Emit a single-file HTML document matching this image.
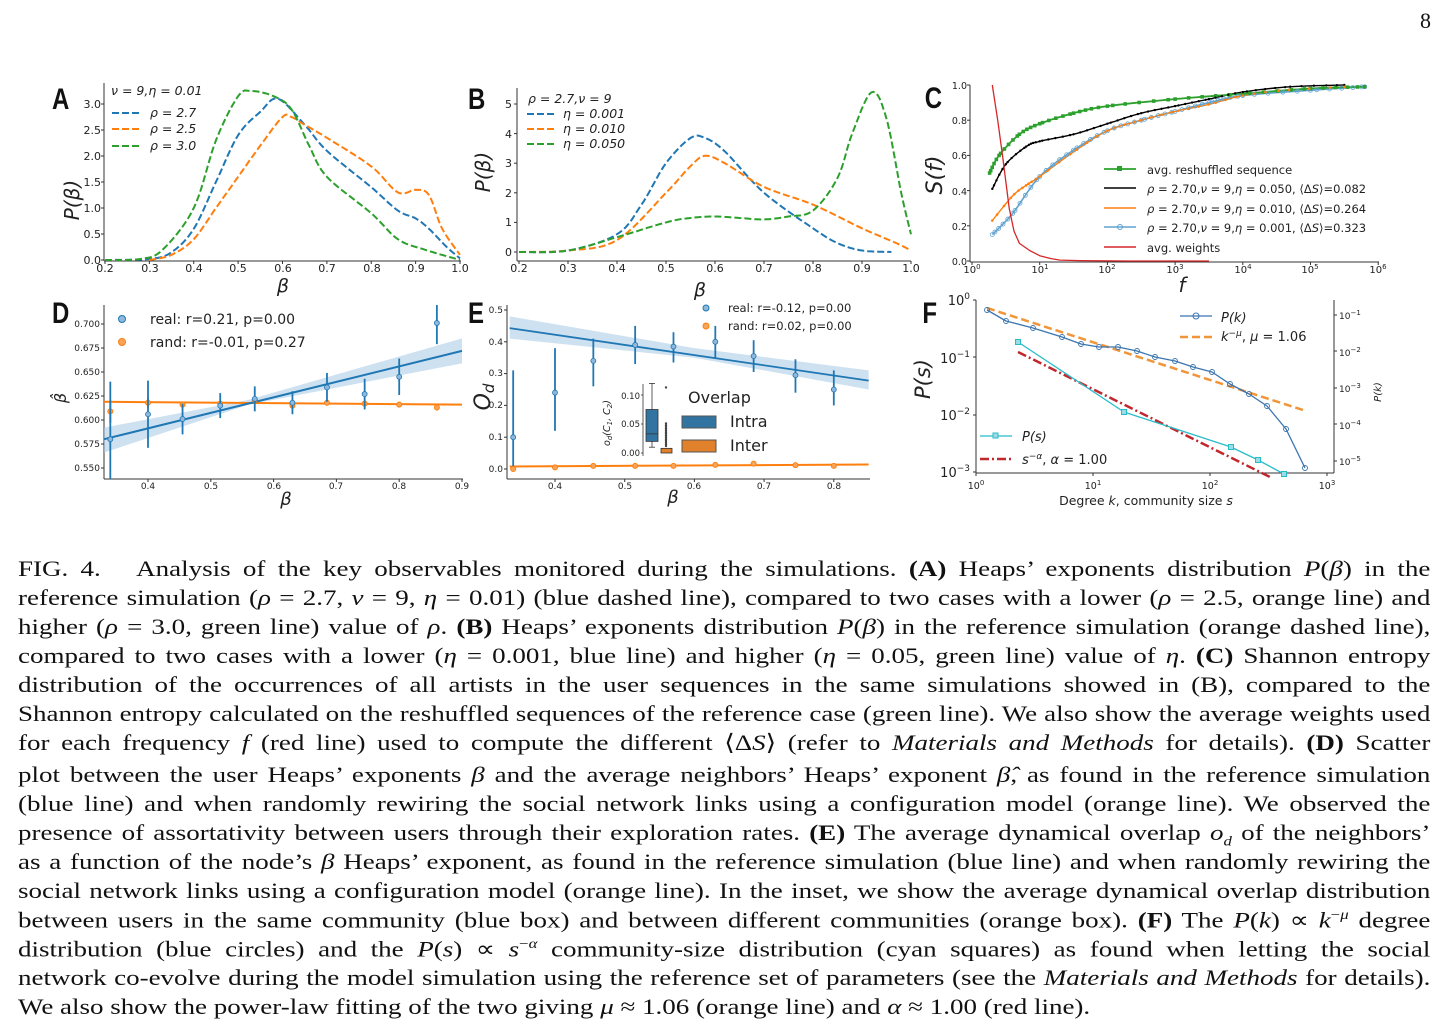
<!DOCTYPE html>
<html><head><meta charset="utf-8"><style>
body{margin:0;background:#fff;width:1448px;height:1030px;overflow:hidden;position:relative}
svg{position:absolute;left:0;top:0}
.t{font-family:"DejaVu Sans","Liberation Sans",sans-serif;fill:#222}
.lab{font-family:"Liberation Sans Narrow","Liberation Sans",sans-serif;font-size:30px;fill:#111;font-weight:bold}
.cap{position:absolute;left:18px;width:1177px;font-family:"Liberation Serif",serif;font-size:22.5px;color:#111;white-space:nowrap;text-align:justify;text-align-last:justify;line-height:1;transform:scaleX(1.2);transform-origin:0 0;word-spacing:-1.5px}
.cap.l{text-align-last:left;word-spacing:0}
b{font-weight:bold}
</style></head><body>
<svg id="s" width="1448" height="1030" xmlns="http://www.w3.org/2000/svg">
<text x="1420" y="28" style="font-family:'Liberation Serif',serif;font-size:22px" fill="#111">8</text>
<g transform="scale(0.8,1)">
<text class="lab" x="65" y="109">A</text>
<text class="lab" x="585" y="109">B</text>
<text class="lab" x="1156" y="108">C</text>
<text class="lab" x="65" y="323">D</text>
<text class="lab" x="585" y="323">E</text>
<text class="lab" x="1153" y="323">F</text>
</g>
<g id="g"></g>
<g class="t" font-size="11" text-anchor="end">
<text x="101" y="264">0.0</text><text x="101" y="238">0.5</text><text x="101" y="212">1.0</text><text x="101" y="186">1.5</text><text x="101" y="160">2.0</text><text x="101" y="134">2.5</text><text x="101" y="108">3.0</text>
</g>
<g class="t" font-size="11" text-anchor="middle">
<text x="105" y="272">0.2</text><text x="150" y="272">0.3</text><text x="194" y="272">0.4</text><text x="238" y="272">0.5</text><text x="283" y="272">0.6</text><text x="327" y="272">0.7</text><text x="372" y="272">0.8</text><text x="416" y="272">0.9</text><text x="460" y="272">1.0</text>
<text x="283" y="292" font-size="19" font-style="italic">β</text>
</g>
<text class="t" font-size="20" font-style="italic" transform="translate(79,200) rotate(-90)" text-anchor="middle">P(β)</text>
<g class="t" font-size="12.5" font-style="italic"><text x="111" y="95">ν = 9,η = 0.01</text><text x="150" y="117">ρ = 2.7</text><text x="150" y="133">ρ = 2.5</text><text x="150" y="150">ρ = 3.0</text></g>
<g class="t" font-size="11" text-anchor="end">
<text x="512" y="256">0</text><text x="512" y="226">1</text><text x="512" y="197">2</text><text x="512" y="167">3</text><text x="512" y="138">4</text><text x="512" y="108">5</text>
</g>
<g class="t" font-size="11" text-anchor="middle">
<text x="519" y="272">0.2</text><text x="568" y="272">0.3</text><text x="617" y="272">0.4</text><text x="666" y="272">0.5</text><text x="715" y="272">0.6</text><text x="764" y="272">0.7</text><text x="813" y="272">0.8</text><text x="862" y="272">0.9</text><text x="911" y="272">1.0</text>
<text x="700" y="296" font-size="19" font-style="italic">β</text>
</g>
<text class="t" font-size="20" font-style="italic" transform="translate(490,172) rotate(-90)" text-anchor="middle">P(β)</text>
<g class="t" font-size="12.5" font-style="italic"><text x="528" y="103">ρ = 2.7,ν = 9</text><text x="563" y="118">η = 0.001</text><text x="563" y="133">η = 0.010</text><text x="563" y="148">η = 0.050</text></g>
<g class="t" font-size="9.5" text-anchor="end">
<text x="967" y="265">0.0</text><text x="967" y="230">0.2</text><text x="967" y="195">0.4</text><text x="967" y="159">0.6</text><text x="967" y="124">0.8</text><text x="967" y="89">1.0</text>
</g>
<g class="t" font-size="10" text-anchor="middle">
<text x="972" y="273">10<tspan font-size="7" dy="-4">0</tspan></text><text x="1040" y="273">10<tspan font-size="7" dy="-4">1</tspan></text><text x="1107" y="273">10<tspan font-size="7" dy="-4">2</tspan></text><text x="1175" y="273">10<tspan font-size="7" dy="-4">3</tspan></text><text x="1243" y="273">10<tspan font-size="7" dy="-4">4</tspan></text><text x="1310" y="273">10<tspan font-size="7" dy="-4">5</tspan></text><text x="1378" y="273">10<tspan font-size="7" dy="-4">6</tspan></text>
<text x="1182" y="292" font-size="20" font-style="italic">f</text>
</g>
<text class="t" font-size="22" font-style="italic" transform="translate(942,175) rotate(-90)" text-anchor="middle">S(f)</text>
<g class="t" font-size="11.5"><text x="1147" y="174">avg. reshuffled sequence</text><text x="1147" y="193"><tspan font-style="italic">ρ</tspan> = 2.70,<tspan font-style="italic">ν</tspan> = 9,<tspan font-style="italic">η</tspan> = 0.050, ⟨Δ<tspan font-style="italic">S</tspan>⟩=0.082</text><text x="1147" y="213"><tspan font-style="italic">ρ</tspan> = 2.70,<tspan font-style="italic">ν</tspan> = 9,<tspan font-style="italic">η</tspan> = 0.010, ⟨Δ<tspan font-style="italic">S</tspan>⟩=0.264</text><text x="1147" y="232"><tspan font-style="italic">ρ</tspan> = 2.70,<tspan font-style="italic">ν</tspan> = 9,<tspan font-style="italic">η</tspan> = 0.001, ⟨Δ<tspan font-style="italic">S</tspan>⟩=0.323</text><text x="1147" y="252">avg. weights</text></g>
<g class="t" font-size="9" text-anchor="end">
<text x="100" y="327">0.700</text><text x="100" y="351">0.675</text><text x="100" y="375">0.650</text><text x="100" y="399">0.625</text><text x="100" y="423">0.600</text><text x="100" y="447">0.575</text><text x="100" y="471">0.550</text>
</g>
<g class="t" font-size="9" text-anchor="middle">
<text x="148" y="489">0.4</text><text x="211" y="489">0.5</text><text x="274" y="489">0.6</text><text x="336" y="489">0.7</text><text x="399" y="489">0.8</text><text x="462" y="489">0.9</text>
<text x="286" y="505" font-size="18" font-style="italic">β</text>
</g>
<text class="t" font-size="16" font-style="italic" transform="translate(66,398) rotate(-90)" text-anchor="middle">β̂</text>
<g class="t" font-size="14"><text x="150" y="324">real: r=0.21, p=0.00</text><text x="150" y="347">rand: r=-0.01, p=0.27</text></g>
<g class="t" font-size="9" text-anchor="end">
<text x="503" y="472">0.0</text><text x="503" y="440">0.1</text><text x="503" y="408">0.2</text><text x="503" y="376">0.3</text><text x="503" y="345">0.4</text><text x="503" y="313">0.5</text>
</g>
<g class="t" font-size="9" text-anchor="middle">
<text x="555" y="489">0.4</text><text x="625" y="489">0.5</text><text x="694" y="489">0.6</text><text x="764" y="489">0.7</text><text x="834" y="489">0.8</text>
<text x="673" y="503" font-size="18" font-style="italic">β</text>
</g>
<text class="t" font-size="22" font-style="italic" transform="translate(490,397) rotate(-90)" text-anchor="middle">O<tspan font-size="15" dy="4">d</tspan></text>
<g class="t" font-size="11.5"><text x="728" y="312">real: r=-0.12, p=0.00</text><text x="728" y="330">rand: r=0.02, p=0.00</text></g>
<g class="t" font-size="8.5" text-anchor="end"><text x="640" y="399">0.10</text><text x="640" y="427">0.05</text><text x="640" y="456">0.00</text></g>
<text class="t" font-size="9.5" font-style="italic" transform="translate(610,423) rotate(-90)" text-anchor="middle">o<tspan font-size="7" dy="2">d</tspan><tspan dy="-2">(C</tspan><tspan font-size="7" dy="2">1</tspan><tspan dy="-2">, C</tspan><tspan font-size="7" dy="2">2</tspan><tspan dy="-2">)</tspan></text>
<g class="t" font-size="16"><text x="688" y="403">Overlap</text><text x="730" y="427">Intra</text><text x="730" y="451">Inter</text></g>
<g class="t" font-size="13" text-anchor="end">
<text x="970" y="305">10<tspan font-size="9" dy="-6">0</tspan></text><text x="970" y="363">10<tspan font-size="9" dy="-6">−1</tspan></text><text x="970" y="420">10<tspan font-size="9" dy="-6">−2</tspan></text><text x="970" y="477">10<tspan font-size="9" dy="-6">−3</tspan></text>
</g>
<g class="t" font-size="9"><text x="1339" y="319">10<tspan font-size="7" dy="-4">−1</tspan></text><text x="1339" y="356">10<tspan font-size="7" dy="-4">−2</tspan></text><text x="1339" y="392">10<tspan font-size="7" dy="-4">−3</tspan></text><text x="1339" y="429">10<tspan font-size="7" dy="-4">−4</tspan></text><text x="1339" y="465">10<tspan font-size="7" dy="-4">−5</tspan></text></g>
<text class="t" font-size="10" font-style="italic" transform="translate(1381,392) rotate(-90)" text-anchor="middle">P(k)</text>
<g class="t" font-size="9.5" text-anchor="middle">
<text x="976" y="489">10<tspan font-size="7" dy="-4">0</tspan></text><text x="1093" y="489">10<tspan font-size="7" dy="-4">1</tspan></text><text x="1210" y="489">10<tspan font-size="7" dy="-4">2</tspan></text><text x="1327" y="489">10<tspan font-size="7" dy="-4">3</tspan></text>
</g>
<text class="t" font-size="12.5" x="1146" y="505" text-anchor="middle">Degree <tspan font-style="italic">k</tspan>, community size <tspan font-style="italic">s</tspan></text>
<text class="t" font-size="21" font-style="italic" transform="translate(930,379) rotate(-90)" text-anchor="middle">P(s)</text>
<g class="t" font-size="13"><text x="1221" y="322" font-style="italic">P(k)</text><text x="1221" y="341"><tspan font-style="italic">k<tspan font-size="9" dy="-5">−μ</tspan></tspan><tspan dy="5">, </tspan><tspan font-style="italic">μ</tspan> = 1.06</text>
<text x="1022" y="441" font-style="italic">P(s)</text><text x="1022" y="464"><tspan font-style="italic">s<tspan font-size="9" dy="-5">−α</tspan></tspan><tspan dy="5">, </tspan><tspan font-style="italic">α</tspan> = 1.00</text></g>
</svg>
<div class="cap" style="top:558px">FIG. 4. &nbsp; Analysis of the key observables monitored during the simulations. <b>(A)</b> Heaps’ exponents distribution <i>P</i>(<i>β</i>) in the</div>
<div class="cap" style="top:587px">reference simulation (<i>ρ</i> = 2.7, <i>ν</i> = 9, <i>η</i> = 0.01) (blue dashed line), compared to two cases with a lower (<i>ρ</i> = 2.5, orange line) and</div>
<div class="cap" style="top:616px">higher (<i>ρ</i> = 3.0, green line) value of <i>ρ</i>. <b>(B)</b> Heaps’ exponents distribution <i>P</i>(<i>β</i>) in the reference simulation (orange dashed line),</div>
<div class="cap" style="top:645px">compared to two cases with a lower (<i>η</i> = 0.001, blue line) and higher (<i>η</i> = 0.05, green line) value of <i>η</i>. <b>(C)</b> Shannon entropy</div>
<div class="cap" style="top:674px">distribution of the occurrences of all artists in the user sequences in the same simulations showed in (B), compared to the</div>
<div class="cap" style="top:703px">Shannon entropy calculated on the reshuffled sequences of the reference case (green line). We also show the average weights used</div>
<div class="cap" style="top:732px">for each frequency <i>f</i> (red line) used to compute the different ⟨Δ<i>S</i>⟩ (refer to <i>Materials and Methods</i> for details). <b>(D)</b> Scatter</div>
<div class="cap" style="top:764px">plot between the user Heaps’ exponents <i>β</i> and the average neighbors’ Heaps’ exponent <i>β̂</i>, as found in the reference simulation</div>
<div class="cap" style="top:793px">(blue line) and when randomly rewiring the social network links using a configuration model (orange line). We observed the</div>
<div class="cap" style="top:822px">presence of assortativity between users through their exploration rates. <b>(E)</b> The average dynamical overlap <i>o<sub style="font-size:14px">d</sub></i> of the neighbors’</div>
<div class="cap" style="top:851px">as a function of the node’s <i>β</i> Heaps’ exponent, as found in the reference simulation (blue line) and when randomly rewiring the</div>
<div class="cap" style="top:880px">social network links using a configuration model (orange line). In the inset, we show the average dynamical overlap distribution</div>
<div class="cap" style="top:909px">between users in the same community (blue box) and between different communities (orange box). <b>(F)</b> The <i>P</i>(<i>k</i>) ∝ <i>k</i><sup style="font-size:14px">−<i>μ</i></sup> degree</div>
<div class="cap" style="top:938px">distribution (blue circles) and the <i>P</i>(<i>s</i>) ∝ <i>s</i><sup style="font-size:14px">−<i>α</i></sup> community-size distribution (cyan squares) as found when letting the social</div>
<div class="cap" style="top:967px">network co-evolve during the model simulation using the reference set of parameters (see the <i>Materials and Methods</i> for details).</div>
<div class="cap l" style="top:996px">We also show the power-law fitting of the two giving <i>μ</i> ≈ 1.06 (orange line) and <i>α</i> ≈ 1.00 (red line).</div>
<script>
var g=document.getElementById('g'),NS='http://www.w3.org/2000/svg';
function el(t,a){var e=document.createElementNS(NS,t);for(var k in a)e.setAttribute(k,a[k]);g.appendChild(e);return e}
function line(x1,y1,x2,y2,c,w,d){el('line',{x1:x1,y1:y1,x2:x2,y2:y2,stroke:c||'#000',"stroke-width":w||1,"stroke-dasharray":d||''})}
function path(pts,fx,fy,c,w,d){var s='';pts.forEach(function(p,i){s+=(i?'L':'M')+fx(p[0]).toFixed(1)+','+fy(p[1]).toFixed(1)});el('path',{d:s,fill:'none',stroke:c,"stroke-width":w,"stroke-dasharray":d||'',"stroke-linejoin":"round"});}
function smooth(pts){var o=[];for(var i=0;i<pts.length-1;i++){var p0=pts[Math.max(i-1,0)],p1=pts[i],p2=pts[i+1],p3=pts[Math.min(i+2,pts.length-1)];for(var t=0;t<1;t+=0.1){var t2=t*t,t3=t2*t;o.push([0.5*((2*p1[0])+(-p0[0]+p2[0])*t+(2*p0[0]-5*p1[0]+4*p2[0]-p3[0])*t2+(-p0[0]+3*p1[0]-3*p2[0]+p3[0])*t3),0.5*((2*p1[1])+(-p0[1]+p2[1])*t+(2*p0[1]-5*p1[1]+4*p2[1]-p3[1])*t2+(-p0[1]+3*p1[1]-3*p2[1]+p3[1])*t3)])}}o.push(pts[pts.length-1]);return o}
var B='#1f77b4',O='#ff7f0e',G='#2ca02c',R='#d62728';
var ax=function(b){return 105+(b-0.2)*443.75},ay=function(v){return 260-v*52};
line(104,83,104,261,'#333');line(104,261,461,261,'#333');
[0,.5,1,1.5,2,2.5,3].forEach(function(v){line(101,ay(v),104,ay(v),'#333')});
[.2,.3,.4,.5,.6,.7,.8,.9,1].forEach(function(v){line(ax(v),261,ax(v),264,'#333')});
path(smooth([[.2,0],[.3,.02],[.35,.15],[.4,.6],[.45,1.5],[.5,2.4],[.55,2.85],[.59,3.1],[.65,2.6],[.7,2.1],[.8,1.4],[.86,.95],[.9,.8],[.93,.6],[.97,.25],[1,.03]]),ax,ay,B,2,'7,3');
path(smooth([[.3,0],[.35,.1],[.4,.4],[.45,1],[.5,1.6],[.55,2.2],[.6,2.75],[.62,2.75],[.65,2.6],[.7,2.35],[.8,1.8],[.86,1.3],[.9,1.35],[.93,1.25],[.96,.6],[1,.1]]),ax,ay,O,2,'7,3');
path(smooth([[.2,0],[.28,.02],[.33,.2],[.4,1],[.45,2.3],[.5,3.15],[.53,3.25],[.58,3.15],[.62,2.9],[.66,2.2],[.7,1.6],[.8,.9],[.86,.4],[.92,.2],[1,0]]),ax,ay,G,2,'7,3');
line(112,113,140,113,B,2,'7,3');line(112,129,140,129,O,2,'7,3');line(112,146,140,146,G,2,'7,3');
var bx=function(b){return 519+(b-0.2)*490},by=function(v){return 252-v*29.6};
line(517,88,517,261,'#333');line(517,261,911,261,'#333');
[0,1,2,3,4,5].forEach(function(v){line(514,by(v),517,by(v),'#333')});
[.2,.3,.4,.5,.6,.7,.8,.9,1].forEach(function(v){line(bx(v),261,bx(v),264,'#333')});
path(smooth([[.2,0],[.3,.05],[.4,.6],[.45,1.6],[.5,3],[.55,3.85],[.58,3.85],[.62,3.4],[.7,2],[.8,.8],[.85,.3],[.9,.05],[.96,0]]),bx,by,B,2,'7,3');
path(smooth([[.2,0],[.3,.05],[.4,.4],[.5,2],[.55,2.9],[.58,3.25],[.62,3],[.7,2.2],[.8,1.6],[.9,.8],[.97,.3],[1,.05]]),bx,by,O,2,'7,3');
path(smooth([[.2,0],[.3,.05],[.4,.5],[.5,1],[.55,1.15],[.6,1.2],[.65,1.15],[.7,1.1],[.75,1.2],[.8,1.4],[.85,2.5],[.88,4],[.92,5.4],[.95,4.5],[.98,2],[1,.6]]),bx,by,G,2,'7,3');
line(527,114,555,114,B,2,'7,3');line(527,129,555,129,O,2,'7,3');line(527,144,555,144,G,2,'7,3');
var cx=function(l){return 972+l*67.7},cy=function(v){return 261-v*176};
line(970,85,970,262,'#333');line(970,262,1379,262,'#333');
[0,.2,.4,.6,.8,1].forEach(function(v){line(967,cy(v),970,cy(v),'#333')});
[0,1,2,3,4,5,6].forEach(function(v){line(cx(v),262,cx(v),265,'#333')});
var lb='#5fa2d0';
var sLB=smooth([[.3,.15],[.6,.27],[1,.48],[1.5,.63],[2,.74],[2.5,.8],[3,.85],[3.5,.9],[4,.94],[5,.97],[5.8,.99]]);
var sO=smooth([[.3,.23],[.6,.37],[.8,.43],[1,.48],[1.5,.62],[2,.74],[2.5,.8],[3,.85],[3.5,.89],[4,.94],[4.6,.97],[5.5,.99]]);
var sK=smooth([[.3,.41],[.5,.55],[.8,.65],[1,.68],[1.5,.72],[2,.78],[2.5,.84],[3,.88],[3.5,.92],[4,.96],[4.7,.99],[5.5,1]]);
var sG=smooth([[.26,.5],[.4,.6],[.7,.72],[1,.78],[1.5,.84],[2,.88],[3,.92],[4,.95],[5,.98],[5.8,.99]]);
path(sLB,cx,cy,lb,1.6);path(sO,cx,cy,O,1.4);path(sK,cx,cy,'#000',1.4);path(sG,cx,cy,G,1.8);
sLB.forEach(function(p,i){if(i%2==0)el('circle',{cx:cx(p[0]),cy:cy(p[1]),r:2,fill:'none',stroke:lb,"stroke-width":.8})});
sG.forEach(function(p,i){if(i%2==0)el('rect',{x:cx(p[0])-1.8,y:cy(p[1])-1.8,width:3.6,height:3.6,fill:G})});
sK.forEach(function(p,i){if(i%2==0)el('circle',{cx:cx(p[0]),cy:cy(p[1]),r:1.2,fill:'#000'})});
sO.forEach(function(p,i){if(i%3==0)el('circle',{cx:cx(p[0]),cy:cy(p[1]),r:1.3,fill:O})});
path([[.3,1],[.38,.8],[.45,.6],[.55,.3],[.62,.17],[.7,.1],[.85,.06],[1,.03],[1.15,.015],[1.3,.005],[1.6,.002],[2.3,0],[3.5,0]],cx,cy,R,1.3);
line(1104,169,1136,169,G,1.8);el('rect',{x:1117,y:166,width:5,height:5,fill:G});
line(1104,188,1136,188,'#000',1.5);line(1104,208,1136,208,O,1.5);line(1104,227,1136,227,lb,1.5);el('circle',{cx:1120,cy:227,r:2.5,fill:'none',stroke:lb});
line(1104,247,1136,247,R,1.5);
var dx=function(b){return 148+(b-0.4)*628},dy=function(v){return 324+(0.7-v)*960};
line(104,305,104,479,'#333');line(104,479,463,479,'#333');
[.7,.675,.65,.625,.6,.575,.55].forEach(function(v){line(101,dy(v),104,dy(v),'#333')});
[.4,.5,.6,.7,.8,.9].forEach(function(v){line(dx(v),479,dx(v),482,'#333')});
el('path',{d:'M'+dx(.33)+','+dy(.592)+'L'+dx(.56)+','+dy(.621)+'L'+dx(.9)+','+dy(.685)+'L'+dx(.9)+','+dy(.659)+'L'+dx(.56)+','+dy(.616)+'L'+dx(.33)+','+dy(.566)+'Z',fill:'#aecde8',opacity:.6});
line(dx(.33),dy(.619),dx(.9),dy(.616),O,2);
line(dx(.33),dy(.58),dx(.9),dy(.672),B,2);
var db=[.34,.40,.455,.515,.57,.63,.685,.745,.80,.86],dv=[.58,.606,.601,.615,.622,.618,.634,.627,.645,.701],de=[.06,.035,.016,.013,.013,.012,.015,.016,.019,.022];
var ov=[.609,.618,.616,.617,.621,.615,.618,.617,.616,.613],oe=[.012,.005,.003,.003,.003,.003,.003,.003,.003,.003];
db.forEach(function(b,i){line(dx(b),dy(ov[i]-oe[i]),dx(b),dy(ov[i]+oe[i]),O,2);el('circle',{cx:dx(b),cy:dy(ov[i]),r:2.5,fill:'#f6a55b',stroke:O});
line(dx(b),Math.min(479,dy(dv[i]-de[i])),dx(b),Math.max(305,dy(dv[i]+de[i])),B,1.8);el('circle',{cx:dx(b),cy:dy(dv[i]),r:2.5,fill:'#8fb8dc',stroke:B,"stroke-width":.8})});
el('circle',{cx:122,cy:319,r:3.5,fill:'#8fb8dc',stroke:B});el('circle',{cx:122,cy:342,r:3.5,fill:'#f6a55b',stroke:O});
var ex=function(b){return 555+(b-0.4)*697},ey=function(v){return 469-v*318};
line(507,305,507,479,'#333');line(507,479,870,479,'#333');
[0,.1,.2,.3,.4,.5].forEach(function(v){line(504,ey(v),507,ey(v),'#333')});
[.4,.5,.6,.7,.8].forEach(function(v){line(ex(v),479,ex(v),482,'#333')});
el('path',{d:'M'+ex(.335)+','+ey(.48)+'L'+ex(.6)+','+ey(.38)+'L'+ex(.85)+','+ey(.31)+'L'+ex(.85)+','+ey(.25)+'L'+ex(.6)+','+ey(.35)+'L'+ex(.335)+','+ey(.41)+'Z',fill:'#aecde8',opacity:.6});
line(ex(.335),ey(.443),ex(.85),ey(.278),B,1.8);
line(ex(.335),ey(.008),ex(.85),ey(.014),O,2);
var eb=[.34,.40,.455,.515,.57,.63,.685,.745,.80],ev=[.10,.24,.34,.39,.385,.40,.355,.295,.25],elo=[0,.12,.26,.33,.335,.35,.305,.24,.2],ehi=[.31,.38,.41,.45,.43,.45,.405,.345,.31];
var eo=[0,.005,.01,.01,.01,.013,.017,.012,.01];
eb.forEach(function(b,i){line(ex(b),ey(elo[i]),ex(b),ey(ehi[i]),B,1.8);el('circle',{cx:ex(b),cy:ey(ev[i]),r:2.5,fill:'#8fb8dc',stroke:B,"stroke-width":.8});el('circle',{cx:ex(b),cy:ey(eo[i]),r:2.5,fill:'#f6a55b',stroke:O})});
el('circle',{cx:706,cy:308,r:3,fill:'#8fb8dc',stroke:B});el('circle',{cx:706,cy:326,r:3,fill:'#f6a55b',stroke:O});
var iy=function(v){return 453-v*580};
el('rect',{x:641,y:380,width:42,height:78,fill:'#fff'});
line(643,384,643,456,'#333',.8);
[0,.05,.1].forEach(function(v){line(641,iy(v),643,iy(v),'#333',.8)});
line(652,iy(.12),652,iy(.075),'#333',.8);line(652,iy(.02),652,iy(.01),'#333',.8);line(649,iy(.12),655,iy(.12),'#333',.8);line(649,iy(.01),655,iy(.01),'#333',.8);
el('rect',{x:646,y:iy(.075),width:12,height:iy(.02)-iy(.075),fill:'#3274a1',stroke:'#333',"stroke-width":.8});
line(646,iy(.033),658,iy(.033),'#333',.8);
el('rect',{x:661,y:iy(.008),width:11,height:iy(0)-iy(.008),fill:'#e1812c',stroke:'#333',"stroke-width":.8});
for(var k=0;k<14;k++){el('circle',{cx:666,cy:iy(.012+k*.003),r:1.2,fill:'#444'})}
el('circle',{cx:666,cy:iy(.113),r:1.2,fill:'#444'});
el('rect',{x:682,y:416,width:34,height:12,fill:'#3274a1',stroke:'#555'});el('rect',{x:682,y:440,width:34,height:12,fill:'#e1812c',stroke:'#555'});
line(976,300,976,473,'#333');line(976,473,1334,473,'#333');line(1334,300,1334,473,'#333');
[300,357,415,472].forEach(function(v){line(973,v,976,v,'#333')});
[315,351,388,424,461].forEach(function(v){line(1334,v,1337,v,'#333')});
[976,1093,1210,1327].forEach(function(v){line(v,473,v,476,'#333')});
line(987,308,1303,410,'#f0953a',2.5,'8,4');
var pk=[[987,310],[1006,321],[1033,328],[1062,337],[1081,344],[1099,347],[1118,347],[1137,351],[1155,357],[1175,361],[1193,367],[1212,372],[1230,384],[1249,394],[1267,406],[1286,429],[1305,468]];
path(pk,function(x){return x},function(y){return y},'#3b75af',1.3);
pk.forEach(function(p){el('circle',{cx:p[0],cy:p[1],r:2.5,fill:'none',stroke:'#3b75af',"stroke-width":.9})});
line(1018,352,1270,477,'#c0282d',2.5,'9,3,2,3');
var ps=[[1018,342],[1124,412],[1231,447],[1258,460],[1284,474]];
path(ps,function(x){return x},function(y){return y},'#28bcc9',1.3);
ps.forEach(function(p){el('rect',{x:p[0]-2.5,y:p[1]-2.5,width:5,height:5,fill:'#9adde4',stroke:'#28bcc9'})});
line(1180,316,1212,316,'#3b75af',1.3);el('circle',{cx:1196,cy:316,r:3,fill:'none',stroke:'#3b75af'});
line(1180,337,1212,337,'#f0953a',2.5,'8,4');
line(980,436,1012,436,'#28bcc9',1.3);el('rect',{x:993,y:433,width:5,height:5,fill:'#9adde4',stroke:'#28bcc9'});
line(980,459,1012,459,'#c0282d',2.5,'9,3,2,3');
</script>
</body></html>
